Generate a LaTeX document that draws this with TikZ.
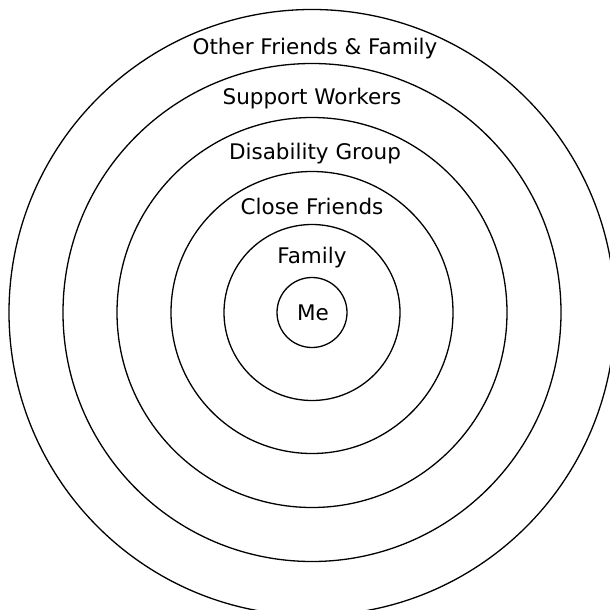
\documentclass[tikz,border=0pt]{standalone}
\usepackage{fontspec}
\setmainfont{DejaVu Sans}
\begin{document}
\begin{tikzpicture}[x=1pt,y=-1pt,
  ring/.style={draw=black,line width=1.3pt},
  lbl/.style={font=\fontsize{21.5}{25}\selectfont,inner sep=0pt,anchor=center}]
\useasboundingbox (0,0) rectangle (610,610);
\clip (0,0) rectangle (610,610);
\coordinate (c) at (312,312.5);
\draw[ring] (c) circle[radius=303];
\draw[ring] (c) circle[radius=249];
\draw[ring] (c) circle[radius=195];
\draw[ring] (c) circle[radius=141];
\draw[ring] (c) circle[radius=88];
\draw[ring] (c) circle[radius=35];
\node[lbl] (other) at (315,49) {Other Friends \& Family};
\node[lbl] (support) at (312,99) {Support Workers};
\node[lbl] (dis) at (315,154) {Disability Group};
\node[lbl] (close) at (312,206) {Close Friends};
\node[lbl] (fam) at (312,258) {Family};
\node[lbl] (me) at (313,313) {Me};
\end{tikzpicture}
\end{document}
